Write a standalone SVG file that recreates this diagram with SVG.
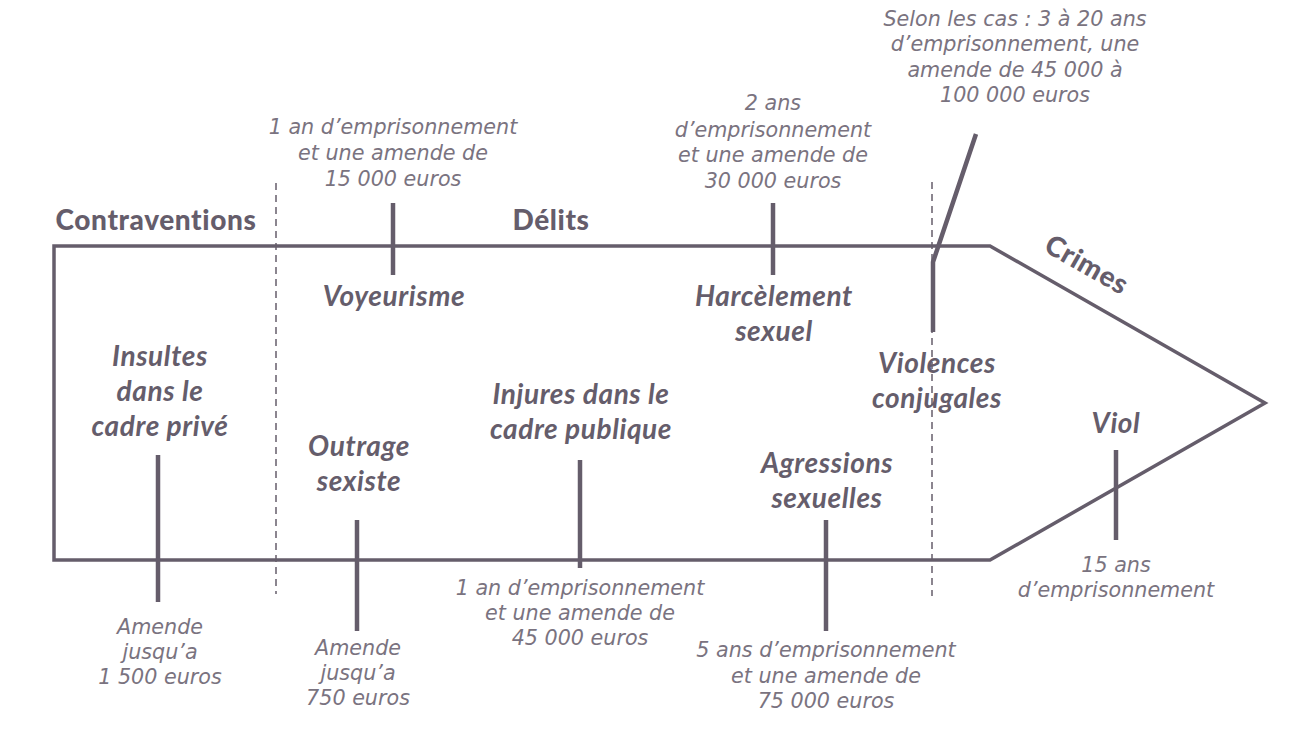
<svg xmlns="http://www.w3.org/2000/svg" width="1301" height="745" viewBox="0 0 1301 745">
<style>
text{font-family:Lato,"Open Sans","Liberation Sans",sans-serif;fill:#655d6b;text-anchor:middle}
.h{font-size:28px;font-weight:900;letter-spacing:0.6px}
.l{font-size:28px;font-weight:700;font-style:italic;letter-spacing:0.6px}
.s{font-family:"DejaVu Sans","Liberation Sans",sans-serif;font-size:20.7px;font-style:italic;font-weight:200;fill:#7a7380}
.o{fill:none;stroke:#655d6b;stroke-width:3.5;stroke-linejoin:miter}
.t{fill:none;stroke:#655d6b;stroke-width:4.5}
.d{fill:none;stroke:#655d6b;stroke-width:1.5;stroke-dasharray:7 5}
</style>
<rect width="1301" height="745" fill="#fff"/>
<g id="frame">
<polygon class="o" points="54,246 990,246 1265,403 990,560 54,560"/>
<line class="d" x1="276" y1="183" x2="276" y2="594"/>
<line class="d" x1="932" y1="182" x2="932" y2="596"/>
</g>
<g id="headers">
<text class="h" x="156" y="230">Contraventions</text>
<text class="h" x="551" y="230">Délits</text>
<text class="h" transform="translate(1082,273) rotate(29.7)">Crimes</text>
</g>
<g id="connectors">
<line class="t" x1="393" y1="203" x2="393" y2="275"/>
<line class="t" x1="773" y1="203" x2="773" y2="275"/>
<polyline class="t" points="976,134 933,262 933,332"/>
<line class="t" x1="158" y1="455" x2="158" y2="602"/>
<line class="t" x1="357" y1="520" x2="357" y2="631"/>
<line class="t" x1="580" y1="460" x2="580" y2="568"/>
<line class="t" x1="826" y1="520" x2="826" y2="631"/>
<line class="t" x1="1116" y1="450" x2="1116" y2="540"/>
</g>
<g id="voyeurisme">
<text class="s" x="393" y="134">1 an d’emprisonnement<tspan x="393" dy="26">et une amende de</tspan><tspan x="393" dy="26">15 000 euros</tspan></text>
<text class="l" x="394" y="306">Voyeurisme</text>
</g>
<g id="harcelement">
<text class="s" x="773" y="110">2 ans<tspan x="773" dy="27">d’emprisonnement</tspan><tspan x="773" dy="25">et une amende de</tspan><tspan x="773" dy="26">30 000 euros</tspan></text>
<text class="l" x="774" y="306">Harcèlement<tspan x="774" dy="35">sexuel</tspan></text>
</g>
<g id="violences">
<text class="s" x="1015" y="26">Selon les cas : 3 à 20 ans<tspan x="1015" dy="25">d’emprisonnement, une</tspan><tspan x="1015" dy="26">amende de 45 000 à</tspan><tspan x="1015" dy="25">100 000 euros</tspan></text>
<text class="l" x="937" y="373">Violences<tspan x="937" dy="35">conjugales</tspan></text>
</g>
<g id="insultes">
<text class="l" x="160" y="366">Insultes<tspan x="160" dy="35">dans le</tspan><tspan x="160" dy="35">cadre privé</tspan></text>
<text class="s" x="160" y="634">Amende<tspan x="160" dy="25">jusqu’a</tspan><tspan x="160" dy="25">1 500 euros</tspan></text>
</g>
<g id="outrage">
<text class="l" x="359" y="456">Outrage<tspan x="359" dy="35">sexiste</tspan></text>
<text class="s" x="358" y="655">Amende<tspan x="358" dy="25">jusqu’a</tspan><tspan x="358" dy="25">750 euros</tspan></text>
</g>
<g id="injures">
<text class="l" x="581" y="404">Injures dans le<tspan x="581" dy="35">cadre publique</tspan></text>
<text class="s" x="580" y="595">1 an d’emprisonnement<tspan x="580" dy="25">et une amende de</tspan><tspan x="580" dy="25">45 000 euros</tspan></text>
</g>
<g id="agressions">
<text class="l" x="827" y="473">Agressions<tspan x="827" dy="35">sexuelles</tspan></text>
<text class="s" x="826" y="657">5 ans d’emprisonnement<tspan x="826" dy="26">et une amende de</tspan><tspan x="826" dy="25">75 000 euros</tspan></text>
</g>
<g id="viol">
<text class="l" x="1116" y="433">Viol</text>
<text class="s" x="1116" y="572">15 ans<tspan x="1116" dy="25">d’emprisonnement</tspan></text>
</g>
</svg>
